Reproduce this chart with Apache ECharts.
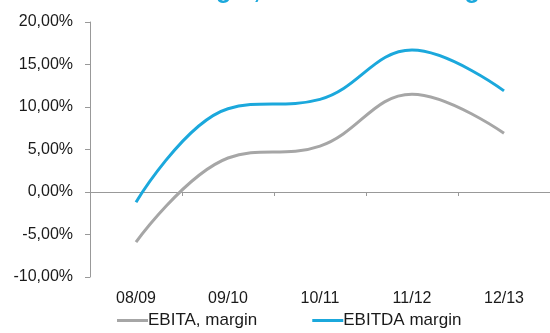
<!DOCTYPE html>
<html>
<head>
<meta charset="utf-8">
<style>
  html, body { margin: 0; padding: 0; background: #fff; }
  #chart { width: 550px; height: 333px; }
</style>
</head>
<body>
<div id="chart"></div>
<script src="https://cdn.jsdelivr.net/npm/echarts@6/dist/echarts.min.js"></script>
<script>
// data (percent)
var years = ['08/09', '09/10', '10/11', '11/12', '12/13'];
var ebitaMargin = [-5.9, 4.0, 5.4, 11.5, 6.9];
var ebitdaMargin = [-1.2, 9.8, 10.9, 16.7, 11.9];
var seriesNames = ['EBITA, margin', 'EBITDA margin'];
var titleText = 'EBITA margin, and EBITDA margin';

var gray = '#a6a6a6';
var blue = '#1ba8dc';
var font = 'Liberation Sans, Arial, sans-serif';

var chart = echarts.init(document.getElementById('chart'));

chart.setOption({
    backgroundColor: '#fff',
    animation: false,
    title: {
        text: titleText,
        left: 85,
        top: -26,
        textStyle: { color: blue, fontSize: 25, fontWeight: 'bold', fontFamily: font }
    },
    grid: { left: 90, right: -9, top: 22, bottom: 56 },
    legend: {
        left: 112,
        top: 307,
        itemWidth: 31,
        itemHeight: 3,
        itemGap: 55,
        icon: 'rect',
        textStyle: { color: '#1a1a1a', fontSize: 17, fontFamily: font, padding: [0, 0, 0, -5] },
        data: seriesNames
    },
    xAxis: [{
        type: 'category',
        data: years,
        position: 'bottom',
        axisLine: { show: false, onZero: false },
        axisTick: { show: false },
        axisLabel: { color: '#1a1a1a', fontSize: 16, fontFamily: font, margin: 14 }
    }, {
        type: 'category',
        data: years,
        position: 'top',
        axisLine: { show: true, onZero: true, lineStyle: { color: '#999', width: 1 } },
        axisTick: { show: true, inside: true, length: 4, lineStyle: { color: '#999' } },
        axisLabel: { show: false }
    }],
    yAxis: {
        type: 'value',
        min: -10,
        max: 20,
        interval: 5,
        axisLine: { show: true, lineStyle: { color: '#999', width: 1 } },
        axisTick: { show: true, length: 5, lineStyle: { color: '#999' } },
        splitLine: { show: false },
        axisLabel: {
            color: '#1a1a1a', fontSize: 16, fontFamily: font, margin: 17,
            formatter: function (v) { return v.toFixed(2).replace('.', ',') + '%'; }
        }
    },
    series: [{
        name: seriesNames[0],
        type: 'line',
        data: ebitaMargin,
        smooth: 0.4,
        symbol: 'none',
        color: gray,
        lineStyle: { color: gray, width: 3 }
    }, {
        name: seriesNames[1],
        type: 'line',
        data: ebitdaMargin,
        smooth: 0.4,
        symbol: 'none',
        color: blue,
        lineStyle: { color: blue, width: 3 }
    }]
});
</script>
</body>
</html>
